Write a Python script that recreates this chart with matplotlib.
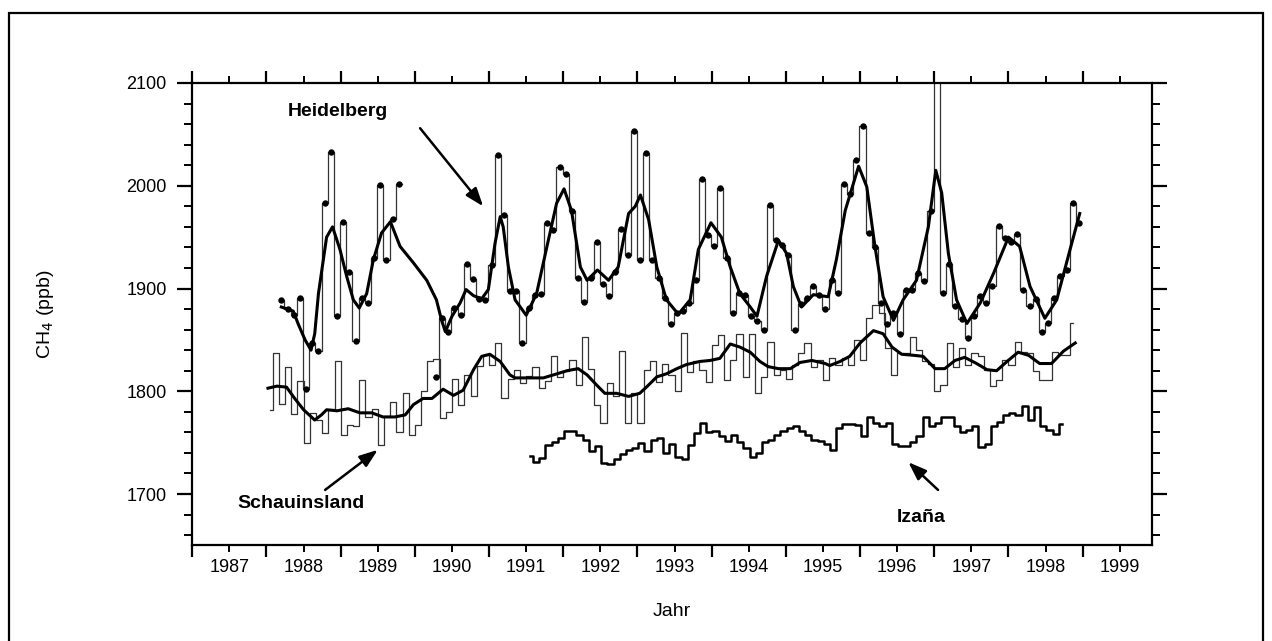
import numpy as np
import matplotlib
matplotlib.use("Agg")
import matplotlib.pyplot as plt
from matplotlib.patches import Rectangle

plt.rcParams['font.family'] = ['Liberation Sans', 'DejaVu Sans']

# Heidelberg monthly means (ppb), first month at 1988.2, gap = nan
hd_start = 1988.2
hd_vals = [1889, 1880, 1874, 1891, 1802, 1847, 1839, 1983, 2033, 1873,
           1965, 1916, 1849, 1891, 1886, 1930, 2001, 1928, 1968, 2002,
           np.nan, np.nan, np.nan, np.nan, np.nan,
           1814, 1871, 1858, 1881, 1874, 1924, 1909, 1890, 1889, 1923,
           2030, 1972, 1898, 1898, 1847, 1881, 1894, 1895, 1964, 1957,
           2018, 2011, 1975, 1910, 1887, 1910, 1945, 1904, 1893, 1916,
           1958, 1933, 2053, 1928, 2032, 1928, 1910, 1891, 1865, 1876,
           1878, 1886, 1908, 2007, 1952, 1941, 1998, 1930, 1876, 1896,
           1894, 1873, 1868, 1860, 1981, 1947, 1942, 1933, 1860, 1885,
           1891, 1902, 1894, 1880, 1908, 1896, 2002, 1992, 2025, 2058,
           1954, 1940, 1886, 1865, 1876, 1856, 1899, 1899, 1915, 1907,
           1975, 2130, 1896, 1924, 1883, 1870, 1852, 1873, 1893, 1886,
           1902, 1961, 1949, 1945, 1953, 1899, 1883, 1890, 1858, 1866,
           1891, 1912, 1918, 1983, 1964]

# Heidelberg smoothed curve
hd_fit_x = [1988.20, 1988.36, 1988.43, 1988.52, 1988.60, 1988.65, 1988.70, 1988.81,
            1988.89, 1988.99, 1989.08, 1989.17, 1989.25, 1989.35, 1989.44, 1989.55,
            1989.67, 1989.80, 1989.98, 1990.16, 1990.29, 1990.36, 1990.41, 1990.50,
            1990.61, 1990.69, 1990.79, 1990.90, 1990.99, 1991.08, 1991.15, 1991.19,
            1991.26, 1991.35, 1991.50, 1991.64, 1991.78, 1991.91, 1992.01, 1992.11,
            1992.23, 1992.32, 1992.46, 1992.61, 1992.74, 1992.88, 1992.97, 1993.04,
            1993.15, 1993.26, 1993.39, 1993.55, 1993.71, 1993.82, 1993.99, 1994.13,
            1994.25, 1994.38, 1994.52, 1994.61, 1994.74, 1994.90, 1995.01, 1995.10,
            1995.21, 1995.37, 1995.57, 1995.68, 1995.80, 1995.98, 1996.09, 1996.20,
            1996.31, 1996.45, 1996.58, 1996.76, 1996.92, 1997.02, 1997.10, 1997.19,
            1997.30, 1997.44, 1997.62, 1997.80, 1998.00, 1998.15, 1998.29, 1998.49,
            1998.65, 1998.83, 1998.96]
hd_fit_y = [1882, 1878, 1865, 1850, 1840, 1856, 1895, 1950,
            1960, 1938, 1912, 1889, 1881, 1895, 1928, 1954,
            1965, 1941, 1925, 1908, 1889, 1869, 1858, 1873,
            1886, 1899, 1893, 1890, 1899, 1944, 1970, 1960,
            1921, 1889, 1874, 1895, 1941, 1983, 1997, 1976,
            1921, 1908, 1918, 1908, 1921, 1973, 1980, 1991,
            1967, 1921, 1889, 1875, 1889, 1938, 1964, 1950,
            1921, 1895, 1882, 1873, 1912, 1947, 1934, 1902,
            1882, 1894, 1892, 1928, 1976, 2019, 1999, 1941,
            1892, 1869, 1889, 1908, 1960, 2015, 1993, 1934,
            1889, 1866, 1886, 1915, 1950, 1941, 1902, 1871,
            1889, 1938, 1973]

# Schauinsland monthly means, first month 1988.0
sch_start = 1988.0
sch_vals = [1782, 1837, 1788, 1824, 1778, 1810, 1750, 1779, 1772, 1759,
            1783, 1829, 1757, 1767, 1766, 1811, 1775, 1783, 1748, 1776,
            1790, 1760, 1798, 1757, 1767, 1800, 1829, 1831, 1774, 1780,
            1812, 1787, 1816, 1795, 1825, 1835, 1826, 1847, 1793, 1812,
            1821, 1808, 1815, 1824, 1803, 1810, 1834, 1814, 1820, 1830,
            1806, 1853, 1822, 1787, 1769, 1808, 1795, 1839, 1769, 1798,
            1769, 1821, 1829, 1809, 1827, 1816, 1800, 1857, 1819, 1829,
            1821, 1809, 1845, 1855, 1811, 1830, 1856, 1814, 1856, 1798,
            1814, 1848, 1816, 1821, 1812, 1826, 1837, 1847, 1824, 1830,
            1811, 1832, 1826, 1832, 1826, 1850, 1830, 1871, 1884, 1876,
            1842, 1816, 1837, 1837, 1853, 1840, 1829, 1827, 1800, 1806,
            1847, 1824, 1842, 1826, 1837, 1834, 1821, 1805, 1811, 1830,
            1826, 1848, 1838, 1837, 1820, 1811, 1811, 1838, 1835, 1835,
            1866]

sch_fit_x = [1988.02, 1988.14, 1988.27, 1988.38, 1988.50, 1988.65, 1988.74, 1988.81,
             1988.95, 1989.10, 1989.26, 1989.42, 1989.57, 1989.73, 1989.87, 1989.98,
             1990.11, 1990.23, 1990.38, 1990.52, 1990.65, 1990.79, 1990.90, 1991.01,
             1991.15, 1991.28, 1991.35, 1991.46, 1991.60, 1991.73, 1991.87, 1992.05,
             1992.20, 1992.32, 1992.45, 1992.56, 1992.72, 1992.88, 1993.03, 1993.12,
             1993.26, 1993.39, 1993.53, 1993.66, 1993.84, 1993.98, 1994.11, 1994.25,
             1994.38, 1994.52, 1994.65, 1994.76, 1994.90, 1995.06, 1995.19, 1995.35,
             1995.53, 1995.59, 1995.73, 1995.86, 1996.00, 1996.18, 1996.31, 1996.43,
             1996.56, 1996.72, 1996.85, 1997.01, 1997.14, 1997.28, 1997.41, 1997.57,
             1997.71, 1997.84, 1997.98, 1998.13, 1998.27, 1998.42, 1998.58, 1998.74,
             1998.90]
sch_fit_y = [1803, 1805, 1804, 1793, 1782, 1772, 1777, 1782,
             1781, 1783, 1779, 1779, 1775, 1775, 1777, 1787,
             1793, 1793, 1802, 1796, 1801, 1821, 1834, 1836,
             1829, 1816, 1813, 1813, 1813, 1813, 1816, 1820,
             1822, 1816, 1806, 1798, 1798, 1795, 1798, 1804,
             1814, 1817, 1822, 1826, 1829, 1830, 1832, 1846,
             1843, 1838, 1829, 1824, 1822, 1822, 1828, 1830,
             1827, 1825, 1829, 1834, 1847, 1859, 1856, 1843,
             1836, 1835, 1834, 1822, 1822, 1830, 1833, 1827,
             1821, 1820, 1829, 1838, 1835, 1827, 1827, 1839,
             1847]

# Izana monthly means, first month 1991.51
iz_start = 1991.51
iz_vals = [1737, 1731, 1735, 1748, 1751, 1755, 1761, 1761, 1757, 1753,
           1742, 1747, 1730, 1729, 1734, 1739, 1743, 1745, 1750, 1742,
           1753, 1755, 1740, 1749, 1736, 1734, 1748, 1759, 1769, 1760,
           1761, 1756, 1752, 1757, 1751, 1745, 1736, 1740, 1751, 1753,
           1757, 1761, 1764, 1766, 1761, 1757, 1753, 1752, 1749, 1743,
           1764, 1768, 1768, 1767, 1756, 1775, 1769, 1766, 1769, 1749,
           1747, 1747, 1751, 1756, 1775, 1766, 1769, 1775, 1775, 1766,
           1760, 1762, 1766, 1746, 1749, 1766, 1770, 1777, 1779, 1777,
           1786, 1772, 1785, 1766, 1762, 1758, 1768]

years = list(range(1987, 2000))


def months(start, vals):
    return start + np.arange(len(vals)) / 12.0


fig = plt.figure(figsize=(12.72, 6.41), dpi=100)
W, H = 1272.0, 641.0
ax = fig.add_axes([192.3 / W, 1 - 545.4 / H, (1151.7 - 192.3) / W, (545.4 - 83) / H])
ax.set_xlim(1987.0, 1999.93)
ax.set_ylim(1650, 2100)

# Schauinsland
sx = months(sch_start, sch_vals) + 1 / 24
ax.step(sx, sch_vals, where='mid', color='#333333', lw=0.9)
ax.plot(sch_fit_x, sch_fit_y, color='black', lw=2.2)

# Izana
ix = months(iz_start, iz_vals) + 1 / 24
ax.step(ix, iz_vals, where='mid', color='black', lw=1.8)

# Heidelberg
hx = months(hd_start, hd_vals)
ax.step(hx, hd_vals, where='mid', color='#333333', lw=0.9)
ax.plot(hx, hd_vals, 'o', color='black', ms=4.6, mew=0)
ax.plot(hd_fit_x, hd_fit_y, color='black', lw=2.2)

# axes styling
for s in ax.spines.values():
    s.set_linewidth(1.6)
ax.set_xticks(years)
ax.set_xticklabels([])
ax.set_xticks([y + 0.5 for y in years], minor=True)
ax.set_xticklabels([str(y) for y in years], minor=True)
ax.set_yticks([1700, 1800, 1900, 2000, 2100])
ax.set_yticks(np.arange(1660, 2100, 20), minor=True)
ax.tick_params(axis='x', which='major', direction='out', length=8.5, width=1.6,
               top=True, bottom=True)
ax.tick_params(axis='x', which='minor', direction='out', length=5, width=1.4,
               top=True, bottom=True, labelsize=13, pad=4.5)
ax.tick_params(axis='y', which='major', direction='out', length=11, width=1.6,
               left=True, right=True, labelsize=13, pad=7.5)
ax.tick_params(axis='y', which='minor', direction='out', length=6, width=1.4,
               left=True, right=True)

ax.set_ylabel('CH$_4$ (ppb)', fontsize=14)
ax.yaxis.set_label_coords(-0.1535, 0.50)
ax.yaxis.label.set_va('center')
ax.set_xlabel('Jahr', fontsize=14)
ax.xaxis.set_label_coords(0.5, -0.142)
ax.xaxis.label.set_va('center')

# labels and arrows
ax.text(1988.96, 2072, 'Heidelberg', fontsize=14, fontweight='bold',
        ha='center', va='center')
ax.text(1988.46, 1691, 'Schauinsland', fontsize=14, fontweight='bold',
        ha='center', va='center')
ax.text(1996.82, 1677, 'Izaña', fontsize=14, fontweight='bold',
        ha='center', va='center')
arrow = dict(arrowstyle='-|>,head_length=0.55,head_width=0.2', lw=1.8,
             color='black', mutation_scale=20, shrinkA=0, shrinkB=0)
ax.annotate('', xy=(1990.92, 1980), xytext=(1990.07, 2056), arrowprops=arrow)
ax.annotate('', xy=(1989.50, 1743), xytext=(1988.79, 1704), arrowprops=arrow)
ax.annotate('', xy=(1996.65, 1731), xytext=(1997.05, 1704), arrowprops=arrow)

# outer frame
fig.add_artist(Rectangle((8.5 / W, -0.01), (1263 - 8.5) / W, 1.01 - 12.5 / H,
                         transform=fig.transFigure, fill=False, lw=1.6,
                         ec='black'))

fig.savefig('out.png', dpi=100)
